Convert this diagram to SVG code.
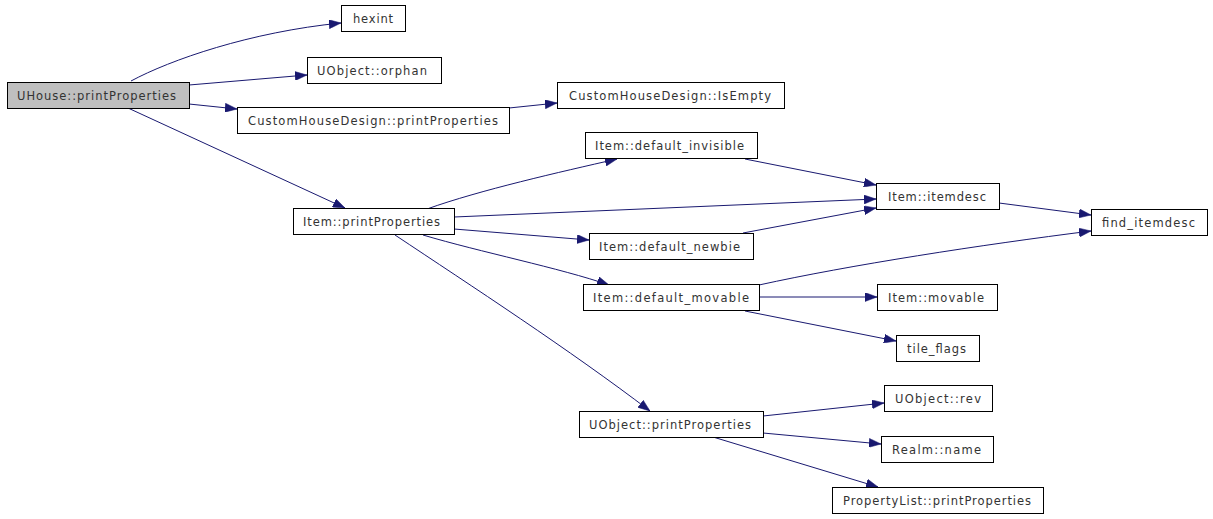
<svg xmlns="http://www.w3.org/2000/svg" width="1213" height="519" viewBox="0 0 1213 519">
<style>
.n rect{fill:#fff;stroke:#000;stroke-width:1}
.n.root rect{fill:#bfbfbf}
.n text{font-family:"DejaVu Sans",sans-serif;font-size:11.5px;fill:#333;text-anchor:start}
.e path{fill:none;stroke:#191970;stroke-width:1;marker-end:url(#ah)}
</style>
<defs>
<marker id="ah" markerUnits="userSpaceOnUse" markerWidth="12" markerHeight="9" refX="12" refY="4.5" orient="auto">
<path d="M0,0 L12,4.5 L0,9 z" fill="#191970" stroke="#191970" stroke-width="0.5"/>
</marker>
</defs>
<rect width="1213" height="519" fill="#fff"/>
<g id="edges" class="e">
<path d="M131,81 C170,60 250,32 341,23"/>
<path d="M189,85 L307,75"/>
<path d="M189,104 L237,109"/>
<path d="M128,108 L345,208"/>
<path d="M509,108 L557,103"/>
<path d="M427,209 C480,190 560,172 617,159"/>
<path d="M454,217 L876,199"/>
<path d="M454,229 L589,240"/>
<path d="M745,159 L876,185"/>
<path d="M743,233 L876,208"/>
<path d="M423,235 C480,252 560,268 609,285"/>
<path d="M395,235 C470,285 570,350 650,411"/>
<path d="M999,203 L1091,215"/>
<path d="M759,285 C850,265 980,245 1091,231"/>
<path d="M759,297 L877,297"/>
<path d="M745,311 L896,341"/>
<path d="M763,416 L884,403"/>
<path d="M763,433 L881,444"/>
<path d="M713,437 L878,487"/>
</g>
<g id="n_uhouse" class="n root"><rect x="7.5" y="82.5" width="182" height="26"/><text x="17" y="100" textLength="159" lengthAdjust="spacing">UHouse::printProperties</text></g>
<g id="n_hexint" class="n"><rect x="341.5" y="5.5" width="64" height="26"/><text x="353" y="23" textLength="40" lengthAdjust="spacing">hexint</text></g>
<g id="n_orphan" class="n"><rect x="307.5" y="57.5" width="134" height="26"/><text x="317" y="75" textLength="110" lengthAdjust="spacing">UObject::orphan</text></g>
<g id="n_chdprint" class="n"><rect x="237.5" y="107.5" width="272" height="26"/><text x="248" y="125" textLength="250" lengthAdjust="spacing">CustomHouseDesign::printProperties</text></g>
<g id="n_chdempty" class="n"><rect x="557.5" y="82.5" width="227" height="26"/><text x="569" y="100" textLength="202" lengthAdjust="spacing">CustomHouseDesign::IsEmpty</text></g>
<g id="n_itemprint" class="n"><rect x="293.5" y="208.5" width="161" height="26"/><text x="303" y="226" textLength="137" lengthAdjust="spacing">Item::printProperties</text></g>
<g id="n_definv" class="n"><rect x="585.5" y="132.5" width="172" height="26"/><text x="595" y="150" textLength="149" lengthAdjust="spacing">Item::default_invisible</text></g>
<g id="n_defnew" class="n"><rect x="589.5" y="233.5" width="164" height="26"/><text x="599" y="251" textLength="141" lengthAdjust="spacing">Item::default_newbie</text></g>
<g id="n_defmov" class="n"><rect x="583.5" y="284.5" width="176" height="26"/><text x="593" y="302" textLength="156" lengthAdjust="spacing">Item::default_movable</text></g>
<g id="n_itemdesc" class="n"><rect x="876.5" y="183.5" width="123" height="26"/><text x="888" y="201" textLength="98" lengthAdjust="spacing">Item::itemdesc</text></g>
<g id="n_finditemdesc" class="n"><rect x="1091.5" y="209.5" width="116" height="26"/><text x="1102" y="227" textLength="93" lengthAdjust="spacing">find_itemdesc</text></g>
<g id="n_movable" class="n"><rect x="877.5" y="284.5" width="120" height="26"/><text x="888" y="302" textLength="96" lengthAdjust="spacing">Item::movable</text></g>
<g id="n_tileflags" class="n"><rect x="896.5" y="335.5" width="83" height="26"/><text x="907" y="353" textLength="59" lengthAdjust="spacing">tile_flags</text></g>
<g id="n_uobjprint" class="n"><rect x="579.5" y="411.5" width="184" height="26"/><text x="589" y="429" textLength="162" lengthAdjust="spacing">UObject::printProperties</text></g>
<g id="n_rev" class="n"><rect x="884.5" y="385.5" width="108" height="26"/><text x="895" y="403" textLength="86" lengthAdjust="spacing">UObject::rev</text></g>
<g id="n_realm" class="n"><rect x="881.5" y="436.5" width="112" height="26"/><text x="892" y="454" textLength="89" lengthAdjust="spacing">Realm::name</text></g>
<g id="n_proplist" class="n"><rect x="832.5" y="487.5" width="211" height="26"/><text x="843" y="505" textLength="188" lengthAdjust="spacing">PropertyList::printProperties</text></g>
</svg>
